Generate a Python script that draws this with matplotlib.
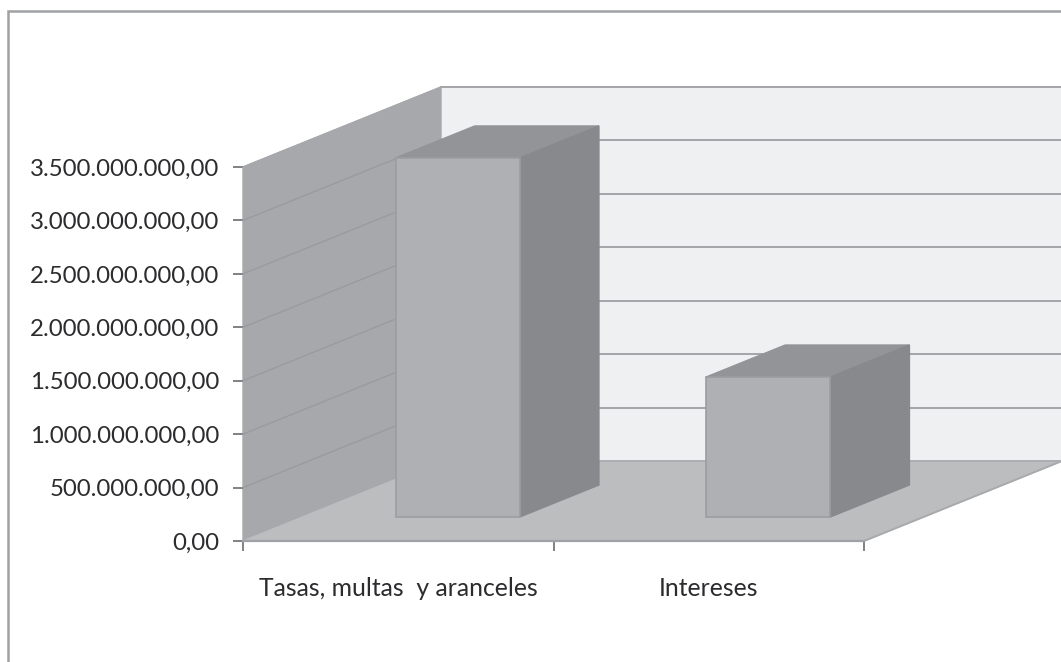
import matplotlib
matplotlib.use('Agg')
import matplotlib.pyplot as plt
from matplotlib.patches import Polygon
from matplotlib.lines import Line2D

# Values
categories = ['Tasas, multas  y aranceles', 'Intereses']
values = [3.36e9, 1.31e9]
y_ticks = [0, 0.5e9, 1e9, 1.5e9, 2e9, 2.5e9, 3e9, 3.5e9]
y_labels = ['0,00', '500.000.000,00', '1.000.000.000,00', '1.500.000.000,00',
            '2.000.000.000,00', '2.500.000.000,00', '3.000.000.000,00', '3.500.000.000,00']

W, H = 1061, 662
plt.rcParams['font.family'] = ['Lato', 'DejaVu Sans']

fig = plt.figure(figsize=(W / 100, H / 100), dpi=100, facecolor='white')
ax = fig.add_axes([243 / W, (H - 541) / H, 621 / W, 374 / H])
ax.set_xlim(0, len(categories))
ax.set_ylim(0, 3.5e9)
ax.patch.set_visible(False)

# oblique depth of the fake 3D box, in data units
depth_x = 198 / 310.5
depth_y = 80 / 374 * 3.5e9
ymax = y_ticks[-1]
nx = len(categories)


def pt(x, y, d=0.0):
    return (x + d * depth_x, y + d * depth_y)


def face(points, color, edge=None, lw=1.0, z=2):
    ax.add_patch(Polygon(points, closed=True, facecolor=color, edgecolor=edge or color,
                         linewidth=lw, clip_on=False, zorder=z, joinstyle='miter'))


grid_color = '#a3a4a7'

# back wall, side wall, floor
face([pt(0, 0, 1), pt(nx, 0, 1), pt(nx, ymax, 1), pt(0, ymax, 1)], '#eff0f2', z=1)
face([pt(0, 0), pt(0, 0, 1), pt(0, ymax, 1), pt(0, ymax)], '#a7a8ab', z=1.5)
face([pt(0, 0), pt(nx, 0), pt(nx, 0, 1), pt(0, 0, 1)], '#bcbdbf', z=1.6)

# gridlines go along the side wall and the back wall
for v in y_ticks[1:]:
    p0, p1, p2 = pt(0, v), pt(0, v, 1), pt(nx, v, 1)
    ax.plot([p1[0], p2[0]], [p1[1], p2[1]], color=grid_color, lw=1.4, clip_on=False, zorder=1.7)
    c = '#9a9b9e' if v < ymax else '#a7a8ab'
    ax.plot([p0[0], p1[0]], [p0[1], p1[1]], color=c, lw=1.0, clip_on=False, zorder=1.7)

# floor edges
ax.plot(*zip(pt(nx, 0), pt(nx, 0, 1)), color='#a9aaad', lw=1.4, clip_on=False, zorder=1.8)
ax.plot(*zip(pt(0, 0, 1), pt(nx, 0, 1)), color='#a9aaad', lw=1.2, clip_on=False, zorder=1.8)

# bars, width and depth as fractions of a category slot
bar_w = 0.4
d0, d1 = 0.3, 0.7
for i, v in enumerate(values):
    x0 = i + 0.5 - bar_w / 2
    x1 = i + 0.5 + bar_w / 2
    face([pt(x0, v, d0), pt(x1, v, d0), pt(x1, v, d1), pt(x0, v, d1)], '#939497', z=3)
    face([pt(x1, 0, d0), pt(x1, 0, d1), pt(x1, v, d1), pt(x1, v, d0)], '#88898c', z=3)
    face([pt(x0, 0, d0), pt(x1, 0, d0), pt(x1, v, d0), pt(x0, v, d0)], '#afb0b3',
         edge='#9c9da0', lw=1.2, z=4)

# axes
for s in ['top', 'right']:
    ax.spines[s].set_visible(False)
ax.spines['left'].set_visible(False)
ax.spines['bottom'].set_color('#a0a1a4')
ax.spines['bottom'].set_linewidth(1.6)
ax.spines['bottom'].set_zorder(5)

ax.set_yticks(y_ticks)
ax.set_yticklabels(y_labels)
ax.tick_params(axis='y', length=7, width=1.4, color='#808184', labelsize=17.3,
               labelcolor='#2c2c2f', pad=10)
ax.set_xticks(range(nx + 1))
ax.set_xticklabels([''] * (nx + 1))
ax.tick_params(axis='x', which='major', length=7, width=1.4, color='#808184')
ax.set_xticks([i + 0.5 for i in range(nx)], minor=True)
ax.set_xticklabels(categories, minor=True)
ax.tick_params(axis='x', which='minor', length=0, labelsize=17.8, labelcolor='#2c2c2f', pad=26)

# outer chart frame, cut off by the image at right and bottom
fig.add_artist(Line2D([7.5 / W, 7.5 / W, 1], [0, 1 - 10.5 / H, 1 - 10.5 / H],
                      color='#a0a1a4', lw=1.8, solid_joinstyle='miter'))

fig.savefig('out.png', dpi=100)
